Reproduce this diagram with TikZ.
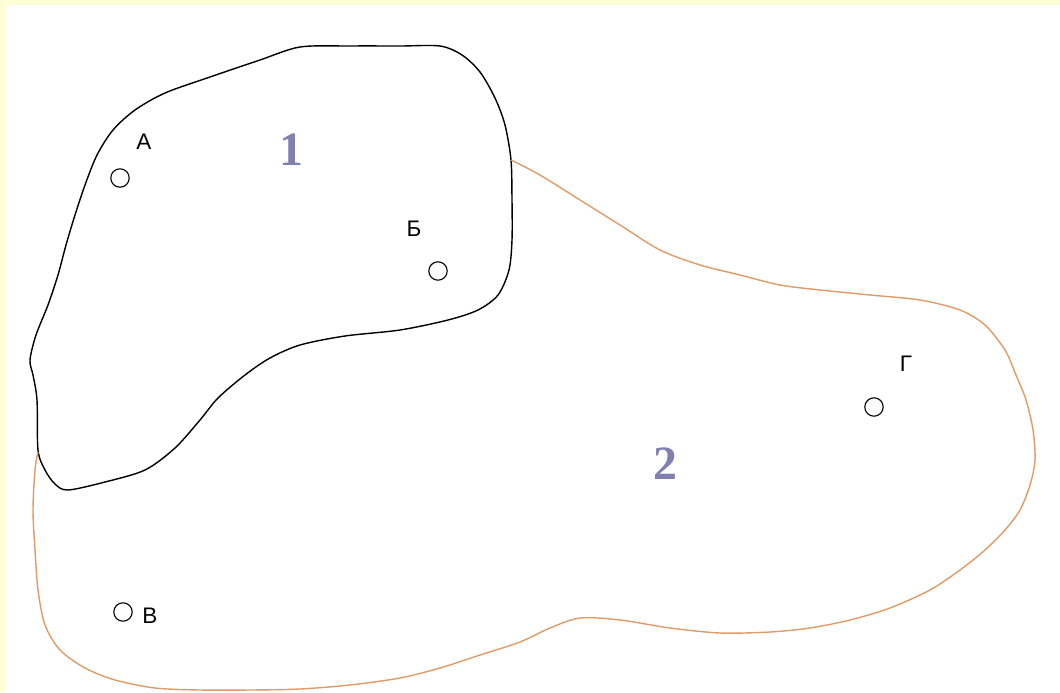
\documentclass[tikz,border=0pt]{standalone}
\usepackage{fontspec}
\setmainfont{Liberation Serif}
\newfontfamily\lblfont{Liberation Sans}
\definecolor{bgyellow}{RGB}{255,255,214}
\definecolor{edgeorange}{RGB}{224,156,104}
\definecolor{numblue}{RGB}{128,128,176}
\begin{document}
\begin{tikzpicture}[x=0.025cm,y=-0.025cm,
  black line/.style={draw=black,line width=1pt,line join=round},
  orange line/.style={draw=edgeorange,line width=1pt,line join=round},
  pointmark/.style={circle,draw=black,line width=0.8pt,minimum size=0.46cm,inner sep=0pt},
  pointlbl/.style={font=\lblfont\fontsize{16}{18}\selectfont,inner sep=0pt},
  regionnum/.style={font=\bfseries\fontsize{34}{38}\selectfont,text=numblue,inner sep=0pt}]
\useasboundingbox (0,0) rectangle (1060,692);
\fill[bgyellow] (0,0) rectangle (1060,692);
\fill[white] (6,5) rectangle (1060,692);
% region 1 (black)
\draw[black line] plot[smooth cycle,tension=0.5] coordinates {
(30,360) (36,335) (48,305) (58,275) (66,245) (75,215) (85,185) (97,155) (113,130)
(135,110) (165,93) (210,77) (260,60) (300,47) (350,46) (400,46) (440,46) (462,55)
(480,72) (495,98) (505,125) (511,160) (512,200) (512,240) (509,270) (498,295)
(478,310) (448,320) (400,330) (345,336) (300,345) (270,358) (245,375) (218,398)
(200,420) (175,448) (145,470) (105,482) (68,490) (55,484) (45,470) (38,450) (37,400) (33,375)};
% region 2 (orange)
\draw[orange line] plot[smooth,tension=0.5] coordinates {
(511,160) (540,175) (580,200) (620,225) (660,250) (700,265) (740,275) (780,285)
(820,290) (870,295) (920,300) (960,310) (985,325) (1005,350) (1016,375) (1026,400)
(1033,430) (1035,460) (1030,485) (1020,510) (1005,530) (985,550) (960,570) (930,590)
(890,608) (850,620) (810,628) (770,632) (720,633) (670,628) (620,620) (580,618)
(550,628) (520,642) (480,655) (440,668) (400,678) (350,685) (300,689) (250,690)
(200,690) (155,688) (115,680) (85,668) (60,650) (45,625) (38,590) (35,550) (33,510)
(35,470) (38,452)};
% points
\node[pointmark] (pa) at (120,178) {};
\node[pointmark] (pb) at (438,271) {};
\node[pointmark] (pg) at (874,407) {};
\node[pointmark] (pv) at (123,612) {};
\node[pointlbl] (la) at (144,142) {А};
\node[pointlbl] (lb) at (414,229) {Б};
\node[pointlbl] (lg) at (906,364) {Г};
\node[pointlbl] (lv) at (150,616) {В};
% region numbers
\node[regionnum] (n1) at (291,150) {1};
\node[regionnum] (n2) at (665,464) {2};
\end{tikzpicture}
\end{document}
